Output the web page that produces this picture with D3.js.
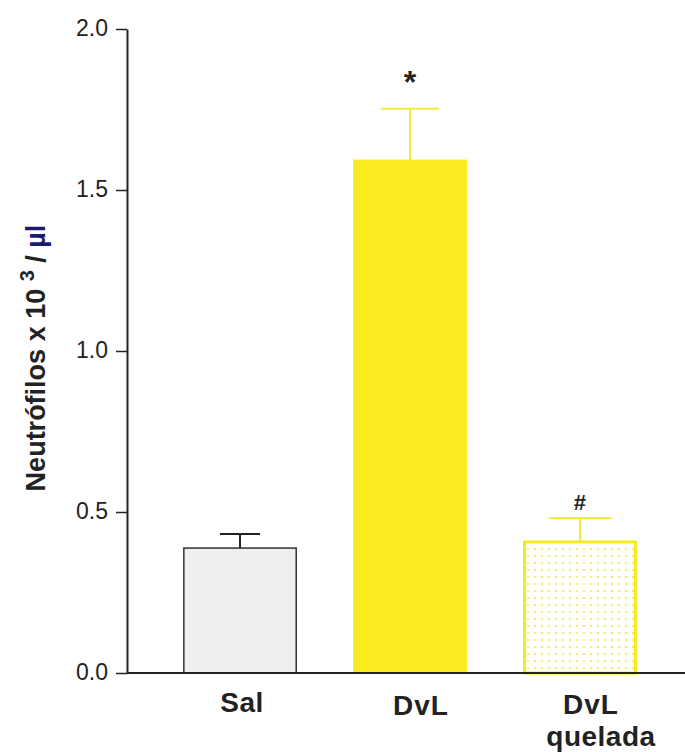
<!DOCTYPE html>
<html>
<head>
<meta charset="utf-8">
<script src="https://cdn.jsdelivr.net/npm/d3@7"></script>
<style>
  body { margin: 0; background: #fff; }
  svg text { font-family: "Liberation Sans", Arial, sans-serif; }
</style>
</head>
<body>
<div id="grafico"></div>
<script>
// valores
var grupos = ["Sal", "DvL", "DvL quelada"];
var medias = [0.388, 1.593, 0.407];
var errores = [0.044, 0.159, 0.074];
var marcas = ["", "*", "#"];
var ticksY = [0.0, 0.5, 1.0, 1.5, 2.0];

var width = 685, height = 752;
var margin = {top: 29, left: 127, bottom: 79};

var svg = d3.select("#grafico").append("svg")
    .attr("width", width)
    .attr("height", height);

// patron de puntos para la barra quelada
var defs = svg.append("defs");
var pat = defs.append("pattern")
    .attr("id", "puntos")
    .attr("patternUnits", "userSpaceOnUse")
    .attr("width", 7).attr("height", 7);
pat.append("rect").attr("width", 7).attr("height", 7).attr("fill", "#fff");
pat.append("rect").attr("x", 2).attr("y", 2).attr("width", 2).attr("height", 2).attr("fill", "#f4ec70");

var y = d3.scaleLinear().domain([0, 2]).range([height - margin.bottom, margin.top]);
var x = d3.scaleBand().domain(grupos).range([margin.left, 693])
    .paddingInner(0.33).paddingOuter(0.33);

var relleno = ["#eef0ef", "#fbec22", "url(#puntos)"];
var borde = ["#333", "#fbec22", "#f5ea1c"];
var grosor = [1.5, 1, 3];
var colorError = ["#222", "#f3ea3a", "#f3ea3a"];
var anchoCap = [40, 58, 62];
var baseEtiqueta = [712, 715, 714];
// desplazamiento horizontal de cada linea de etiqueta
var despEtiqueta = [[2], [11], [11, 21]];

var datos = grupos.map(function(g, i) {
    return {g: g, m: medias[i], e: errores[i], marca: marcas[i], i: i};
});

// barras de error
svg.selectAll(".err").data(datos).enter().append("g")
    .each(function(d) {
        var cx = x(d.g) + x.bandwidth() / 2;
        var g = d3.select(this);
        g.append("line")
            .attr("x1", cx).attr("x2", cx)
            .attr("y1", y(d.m)).attr("y2", y(d.m + d.e))
            .attr("stroke", colorError[d.i]).attr("stroke-width", 2);
        g.append("line")
            .attr("x1", cx - anchoCap[d.i] / 2).attr("x2", cx + anchoCap[d.i] / 2)
            .attr("y1", y(d.m + d.e)).attr("y2", y(d.m + d.e))
            .attr("stroke", colorError[d.i]).attr("stroke-width", 2);
    });

// barras
svg.selectAll(".bar").data(datos).enter().append("rect")
    .attr("class", "bar")
    .attr("x", function(d) { return x(d.g) + grosor[d.i] / 2; })
    .attr("width", function(d) { return x.bandwidth() - grosor[d.i]; })
    .attr("y", function(d) { return y(d.m); })
    .attr("height", function(d) { return y(0) - y(d.m); })
    .attr("fill", function(d) { return relleno[d.i]; })
    .attr("stroke", function(d) { return borde[d.i]; })
    .attr("stroke-width", function(d) { return grosor[d.i]; });

// marcas de significancia
svg.selectAll(".marca").data(datos).enter().append("text")
    .attr("x", function(d) { return x(d.g) + x.bandwidth() / 2; })
    .attr("y", function(d) { return y(d.m + d.e) - (d.marca == "*" ? 16 : 8); })
    .attr("text-anchor", "middle")
    .attr("font-size", function(d) { return d.marca == "*" ? 32 : 22; })
    .attr("font-weight", "bold")
    .attr("fill", "#222")
    .text(function(d) { return d.marca; });

// eje Y
var ejeY = svg.append("g")
    .attr("transform", "translate(" + margin.left + ",0)")
    .call(d3.axisLeft(y).tickValues(ticksY).tickFormat(d3.format(".1f"))
        .tickSize(11).tickSizeOuter(0).tickPadding(8));
ejeY.select(".domain").attr("stroke", "#222").attr("stroke-width", 2);
ejeY.selectAll(".tick line").attr("stroke", "#222").attr("stroke-width", 1.5);
ejeY.selectAll(".tick text")
    .attr("font-size", 23).attr("fill", "#222")
    .attr("font-family", "Liberation Sans, Arial, sans-serif")
    .attr("dy", "0.3em");

// eje X
svg.append("line")
    .attr("x1", margin.left).attr("x2", width)
    .attr("y1", y(0)).attr("y2", y(0))
    .attr("stroke", "#222").attr("stroke-width", 2);

svg.selectAll(".lab").data(datos).enter().append("text")
    .attr("text-anchor", "middle")
    .attr("font-size", 28).attr("font-weight", "bold").attr("fill", "#222")
    .each(function(d) {
        var cx = x(d.g) + x.bandwidth() / 2;
        var partes = d.g.split(" ");
        var t = d3.select(this);
        partes.forEach(function(p, k) {
            t.append("tspan")
                .attr("x", cx + despEtiqueta[d.i][k])
                .attr("y", baseEtiqueta[d.i] + k * 32)
                .attr("letter-spacing", p == "DvL" ? 1 : 0.5)
                .text(p);
        });
    });

// titulo eje Y
var ty = svg.append("text")
    .attr("transform", "translate(45,358) rotate(-90)")
    .attr("text-anchor", "middle")
    .attr("font-size", 27).attr("font-weight", "bold").attr("fill", "#222");
ty.append("tspan").text("Neutrófilos x 10 ");
ty.append("tspan").attr("dy", -11).attr("font-size", 20).text("3");
ty.append("tspan").attr("dy", 11).text(" / ");
ty.append("tspan").attr("fill", "#1a1a6e").text("µl");
</script>
</body>
</html>
